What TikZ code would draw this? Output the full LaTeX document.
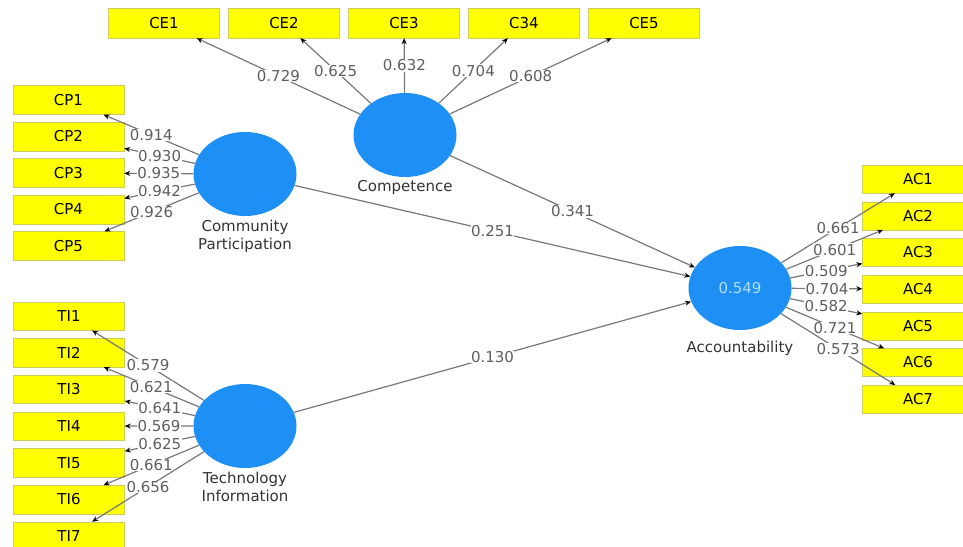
\documentclass[tikz,border=0pt]{standalone}
\usepackage{fontspec}
\setmainfont{DejaVu Sans}
\usepackage{tikz}
\usetikzlibrary{arrows.meta,shapes.geometric,positioning}
\definecolor{plsblue}{RGB}{30,144,245}
\definecolor{boxyellow}{RGB}{255,255,0}
\definecolor{boxedge}{RGB}{205,205,90}
\definecolor{linegray}{RGB}{120,120,120}
\definecolor{valgray}{RGB}{95,95,95}
\definecolor{rsqblue}{RGB}{175,220,255}
\tikzset{
    indicator/.style = {draw=boxedge, fill=boxyellow, rectangle, 
        minimum height=29pt, 
        minimum width=111pt, inner sep=0pt, align=center},
    latent/.style = {ellipse, fill=plsblue, 
        minimum width=103pt, minimum height=84pt, inner sep=0pt},
    loading/.style = {draw=linegray, line width=1.2pt, -{Stealth[length=6pt,width=5pt,color=black]}},
    coef/.style = {fill=white, inner sep=0.5pt, text=valgray},
    lvname/.style = {text=black!80, align=center, label distance=0pt}
}

\begin{document}
\begin{tikzpicture}[x=1pt, y=-1pt, node distance=36.7pt, font=\fontsize{15}{18}\selectfont]
    \useasboundingbox (0,0) rectangle (963,546);
    % latent variables
    \node [latent, label={[lvname]below:Competence}] (comp) at (405,135) {};
    \node [latent, label={[lvname]below:Community\\Participation}] (cpart) at (245,174) {};
    \node [latent, label={[lvname]below:Technology\\Information}] (tinfo) at (245,426) {};
    \node [latent, text=rsqblue, label={[lvname, label distance=7pt]below:Accountability}] (acc) at (740,288) {0.549};
    % competence indicators
    \node [indicator, minimum height=30pt] (ce1) at (164,23) {CE1};
    \node [indicator, minimum height=30pt, right of=ce1, node distance=120pt] (ce2) {CE2};
    \node [indicator, minimum height=30pt, right of=ce2, node distance=120pt] (ce3) {CE3};
    \node [indicator, minimum height=30pt, right of=ce3, node distance=120pt] (ce4) {C34};
    \node [indicator, minimum height=30pt, right of=ce4, node distance=120pt] (ce5) {CE5};
    % community participation indicators
    \node [indicator] (cp1) at (68.5,100) {CP1};
    \node [indicator, below of=cp1, node distance=36.5pt] (cp2) {CP2};
    \node [indicator, below of=cp2, node distance=36.5pt] (cp3) {CP3};
    \node [indicator, below of=cp3, node distance=36.5pt] (cp4) {CP4};
    \node [indicator, below of=cp4, node distance=36.5pt] (cp5) {CP5};
    % technology information indicators
    \node [indicator, minimum height=28.5pt] (ti1) at (69,316) {TI1};
    \node [indicator, minimum height=28.5pt, below of=ti1] (ti2) {TI2};
    \node [indicator, minimum height=28.5pt, below of=ti2] (ti3) {TI3};
    \node [indicator, minimum height=28.5pt, below of=ti3] (ti4) {TI4};
    \node [indicator, minimum height=28.5pt, below of=ti4] (ti5) {TI5};
    \node [indicator, minimum height=28.5pt, below of=ti5] (ti6) {TI6};
    \node [indicator, minimum height=28.5pt, below of=ti6] (ti7) {TI7};
    % accountability indicators
    \node [indicator, minimum height=28pt] (ac1) at (918,179) {AC1};
    \node [indicator, minimum height=28pt, below of=ac1] (ac2) {AC2};
    \node [indicator, minimum height=28pt, below of=ac2] (ac3) {AC3};
    \node [indicator, minimum height=28pt, below of=ac3] (ac4) {AC4};
    \node [indicator, minimum height=28pt, below of=ac4] (ac5) {AC5};
    \node [indicator, minimum height=28pt, below of=ac5] (ac6) {AC6};
    \node [indicator, minimum height=28pt, below of=ac6] (ac7) {AC7};
    % outer loadings
    \draw [loading] (comp) -- node[coef] {0.729} (ce1);
    \draw [loading] (comp) -- node[coef] {0.625} (ce2);
    \draw [loading] (comp) -- node[coef] {0.632} (ce3);
    \draw [loading] (comp) -- node[coef] {0.704} (ce4);
    \draw [loading] (comp) -- node[coef] {0.608} (ce5);
    \draw [loading] (cpart) -- node[coef] {0.914} (cp1);
    \draw [loading] (cpart) -- node[coef] {0.930} (cp2);
    \draw [loading] (cpart) -- node[coef] {0.935} (cp3);
    \draw [loading] (cpart) -- node[coef] {0.942} (cp4);
    \draw [loading] (cpart) -- node[coef] {0.926} (cp5);
    \draw [loading] (tinfo) -- node[coef] {0.579} (ti1);
    \draw [loading] (tinfo) -- node[coef] {0.621} (ti2);
    \draw [loading] (tinfo) -- node[coef] {0.641} (ti3);
    \draw [loading] (tinfo) -- node[coef] {0.569} (ti4);
    \draw [loading] (tinfo) -- node[coef] {0.625} (ti5);
    \draw [loading] (tinfo) -- node[coef] {0.661} (ti6);
    \draw [loading] (tinfo) -- node[coef] {0.656} (ti7);
    \draw [loading] (acc) -- node[coef] {0.661} (ac1);
    \draw [loading] (acc) -- node[coef] {0.601} (ac2);
    \draw [loading] (acc) -- node[coef] {0.509} (ac3);
    \draw [loading] (acc) -- node[coef] {0.704} (ac4);
    \draw [loading] (acc) -- node[coef] {0.582} (ac5);
    \draw [loading] (acc) -- node[coef] {0.721} (ac6);
    \draw [loading] (acc) -- node[coef] {0.573} (ac7);
    % path coefficients
    \draw [loading] (comp) -- node[coef] {0.341} (acc);
    \draw [loading] (cpart) -- node[coef] {0.251} (acc);
    \draw [loading] (tinfo) -- node[coef] {0.130} (acc);
\end{tikzpicture}
\end{document}
